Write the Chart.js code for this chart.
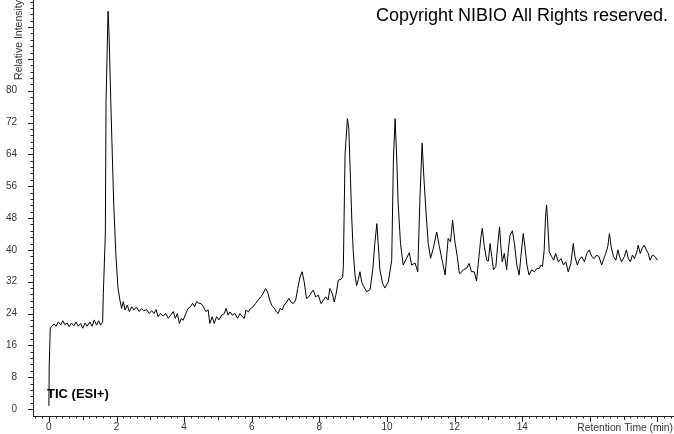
<!DOCTYPE html>
<html>
<head>
<meta charset="utf-8">
<title>TIC (ESI+)</title>
<script src="https://cdn.jsdelivr.net/npm/chart.js@4.4.1/dist/chart.umd.min.js"></script>
<style>
html,body{margin:0;padding:0;background:#fff;}
canvas{display:block;}
</style>
</head>
<body>
<canvas id="ticChart" width="674" height="434"></canvas>
<script>
/* =========================
   TIC (ESI+) chromatogram
========================= */

// retention time (min)
let retentionTime = [
0,0.01,0.04,0.08,0.15,0.21,0.28,0.35,0.41,0.47,0.54,0.60,0.67,0.74,0.80,0.87,0.94,1.00,1.07,1.13,
1.21,1.28,1.34,1.41,1.47,1.53,1.59,1.61,1.67,1.69,1.75,1.78,1.83,1.88,1.92,1.98,2.04,2.10,2.15,2.20,
2.25,2.32,2.38,2.45,2.51,2.59,2.67,2.74,2.81,2.89,2.97,3.04,3.11,3.17,3.23,3.30,3.38,3.46,3.53,3.60,
3.68,3.74,3.80,3.86,3.92,3.97,4.05,4.12,4.19,4.25,4.31,4.37,4.43,4.50,4.57,4.64,4.71,4.76,4.83,4.89,
4.96,5.03,5.11,5.19,5.24,5.30,5.36,5.42,5.50,5.58,5.65,5.72,5.78,5.83,5.90,5.97,6.04,6.11,6.19,6.27,
6.34,6.41,6.47,6.53,6.59,6.67,6.73,6.78,6.84,6.90,6.96,7.03,7.10,7.16,7.23,7.30,7.36,7.43,7.49,7.55,
7.62,7.69,7.75,7.82,7.89,7.97,8.05,8.12,8.19,8.26,8.31,8.38,8.44,8.50,8.56,8.64,8.69,8.71,8.76,8.83,
8.87,8.92,8.96,9.00,9.05,9.10,9.15,9.20,9.25,9.30,9.40,9.50,9.58,9.64,9.70,9.74,9.79,9.87,9.94,10.04,
10.14,10.19,10.24,10.29,10.33,10.40,10.48,10.58,10.66,10.73,10.83,10.91,10.98,11.04,11.09,11.15,11.22,11.29,11.37,11.47,
11.55,11.65,11.72,11.81,11.88,11.94,12.01,12.08,12.14,12.16,12.26,12.36,12.43,12.50,12.58,12.65,12.72,12.78,12.82,12.88,
12.95,13.00,13.05,13.10,13.15,13.22,13.28,13.33,13.37,13.41,13.47,13.54,13.59,13.64,13.71,13.77,13.84,13.91,13.96,14.03,
14.08,14.14,14.20,14.28,14.36,14.43,14.50,14.56,14.60,14.65,14.69,14.72,14.75,14.80,14.87,14.93,14.99,15.07,15.15,15.22,
15.29,15.36,15.44,15.51,15.56,15.63,15.68,15.76,15.84,15.91,15.98,16.06,16.13,16.20,16.27,16.35,16.40,16.47,16.53,16.58,
16.63,16.70,16.77,16.83,16.88,16.94,17.02,17.08,17.14,17.20,17.26,17.32,17.39,17.43,17.49,17.55,17.61,17.67,17.73,17.78,
17.85,17.93,18.00
];

// relative intensity (%)
let intensity = [
0.8,10.8,20.5,20.7,21.4,20.8,21.9,21.1,22.2,21.2,21.6,20.7,21.6,20.9,21.9,20.8,21.5,20.3,21.6,20.8,
21.9,20.8,22.4,21.1,22.2,21.1,21.9,29,44,77,100,94,77.6,62.6,51,39,30.7,27.4,25.3,27,
24.9,26.1,24.5,25.7,24.9,25.6,24.5,25.3,24.7,25,24,24.7,24,25,23.2,24,23.4,24,22.8,23.6,
24.5,22.8,24,21.5,22.8,22.3,24,25.3,25.7,26.6,25.7,27,26.6,26.5,25.7,24.5,24.9,21.5,23.2,21.5,
23.2,22.4,23.6,24,25.3,23.6,24.4,23.6,24,22.8,24,23.2,22.8,24.9,24.4,25.3,25.7,26.5,27.4,28.2,
29.1,30.3,29.4,27.4,26.1,25.3,24.4,24,25.3,24.9,26.1,26.9,27.8,26.9,26.5,27.4,30.3,33.2,34.5,32,
27.8,28.2,29.1,29.9,28.2,28.6,26.5,27.4,28.2,27.4,30.3,29.1,26.9,29.1,32.4,32.6,33.2,36,64,73,
70.6,58,47.5,40,34,31,32.5,34.5,32,31,29.5,30,35,41.6,46.6,41.6,35,31.6,30.4,32,
37.4,62.6,73,62.6,51.7,41.6,36.2,37.9,39.3,36.2,36.7,34.5,54.2,66.8,58.4,50,41.6,37.9,40.4,44.5,
40.8,36.6,33.7,42.9,42,47.5,42,38.3,34.1,34,35,35.4,36.6,34.5,34.5,32.2,38.3,43.3,45.4,40.8,
37.4,37.2,41.6,38.3,35,35.8,41.6,45.8,40.8,37,39.1,35,40,43.7,44.8,41.6,36.2,33.7,38.3,44.1,
40.8,36.2,33.7,35,34.5,35.3,35.3,36.2,35.8,40,48.3,51.3,47.5,39.5,38.3,37.4,39.1,37,37.8,36.2,
37,34.5,36.6,41.6,38.3,36.2,37.4,38.3,37,39.1,40,38.3,37.8,38.7,38.3,36.2,37.4,39.1,40.8,44.1,
40.8,38.3,37.4,40,38.3,37,38.3,40,37.8,37,38.7,37.8,39.5,41.2,39.1,40.4,41.2,40,39.1,37.4,
38.7,38.3,37.4
];

// tick labels
let xTickValues = [0,2,4,6,8,10,12,14];
let yTickValues = [0,8,16,24,32,40,48,56,64,72,80];

let xMinorStep = 0.2;
let yMinorStep = 1.6;

let fontFamily = "'Liberation Sans', Arial, sans-serif";


/* =========================
   tick marks + labels on top
========================= */

const decoration = {

id:"decoration",

afterDraw(chart){

let ctx = chart.ctx;
let xs = chart.scales.x;
let ys = chart.scales.y;

ctx.save();
ctx.strokeStyle = "#222";
ctx.lineWidth = 1;
ctx.beginPath();

// x ticks
for(let i = Math.ceil(xs.min / xMinorStep); i * xMinorStep <= xs.max; i++){
let px = Math.round(xs.getPixelForValue(i * xMinorStep)) + 0.5;
let len = (i % 10 === 0) ? 6 : (i % 5 === 0 ? 4 : 2.5);
ctx.moveTo(px, xs.top);
ctx.lineTo(px, xs.top + len);
}

// y ticks
for(let i = 0; i * yMinorStep <= ys.max; i++){
let py = Math.round(ys.getPixelForValue(i * yMinorStep)) + 0.5;
let len = (i % 5 === 0) ? 5 : 2.5;
ctx.moveTo(ys.right - len, py);
ctx.lineTo(ys.right, py);
}

ctx.stroke();

// texts
ctx.fillStyle = "#000";
ctx.textBaseline = "alphabetic";

ctx.font = "18px " + fontFamily;
ctx.textAlign = "right";
ctx.fillText("Copyright NIBIO All Rights reserved.", 668, 21);

ctx.font = "bold 13px " + fontFamily;
ctx.textAlign = "left";
ctx.fillText("TIC (ESI+)", 47, 398);

ctx.restore();

}

};


/* =========================
   draw chart
========================= */

function drawChart(){

let points = retentionTime.map((t, i) => ({x: t, y: intensity[i]}));

new Chart(document.getElementById("ticChart"), {

type:"line",

data:{
datasets:[{
label:"TIC (ESI+)",
data:points,
borderColor:"#000",
borderWidth:1,
pointRadius:0,
tension:0,
fill:false
}]
},

options:{
responsive:false,
animation:false,
layout:{padding:{left:0, right:1, top:0, bottom:0}},
plugins:{
legend:{display:false},
tooltip:{enabled:false}
},
scales:{

x:{
type:"linear",
min:-0.47,
max:18.46,
grid:{display:false, drawTicks:false},
border:{display:true, color:"#222", width:1},
ticks:{padding:5, color:"#333", autoSkip:false, maxRotation:0, font:{family:fontFamily, size:10}},
title:{display:true, text:"Retention Time (min)", align:"end", color:"#333", padding:{top:0, bottom:0}, font:{family:fontFamily, size:10.3}},
afterBuildTicks: s => { s.ticks = xTickValues.map(v => ({value:v})); },
afterFit: s => { s.height = 18; s.paddingLeft = 0; s.paddingRight = 0; }
},

y:{
type:"linear",
min:-1.75,
max:102.8,
grid:{display:false, drawTicks:false},
border:{display:true, color:"#222", width:1},
ticks:{padding:16, color:"#333", font:{family:fontFamily, size:10}},
title:{display:true, text:"Relative Intensity", align:"end", color:"#333", padding:{top:13, bottom:0}, font:{family:fontFamily, size:10.5}},
afterBuildTicks: s => { s.ticks = yTickValues.map(v => ({value:v})); },
afterFit: s => { s.width = 33; s.paddingTop = 0; s.paddingBottom = 0; }
}

}
},

plugins:[decoration]

});

}

drawChart();
</script>
</body>
</html>
